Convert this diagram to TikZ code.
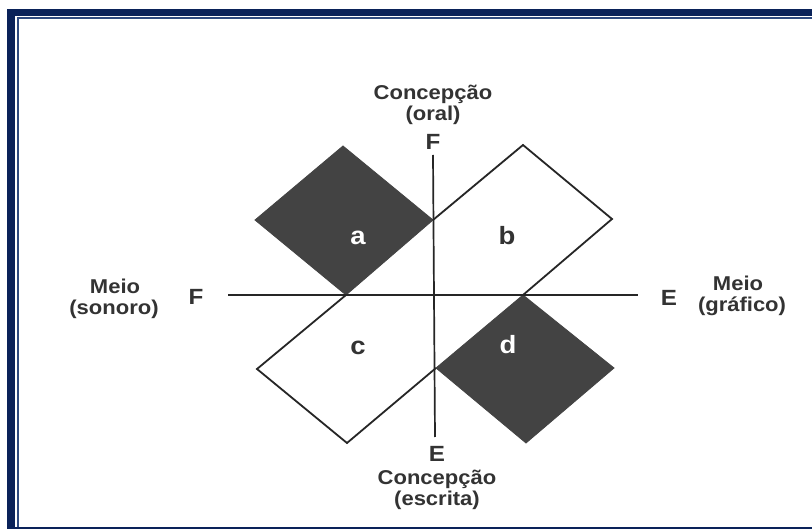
\documentclass[tikz,border=0pt]{standalone}
\usepackage{fontspec}
\setmainfont{Liberation Sans}[FakeStretch=1.1]
\definecolor{navy}{HTML}{0A2259}
\definecolor{navyl}{HTML}{2E4A80}
\definecolor{ink}{HTML}{333333}
\definecolor{shade}{HTML}{434343}
\begin{document}
\begin{tikzpicture}[x=1pt,y=-1pt,
  lbl/.style={font=\fontsize{20}{22}\selectfont\bfseries, text=ink, inner sep=0pt, anchor=base},
  big/.style={font=\fontsize{22}{22}\selectfont\bfseries, text=ink, inner sep=0pt, anchor=base},
  letter/.style={font=\fontsize{25}{25}\selectfont\bfseries, inner sep=0pt, anchor=base},
  dark/.style={fill=shade, draw=shade, line width=0.8pt, line join=miter},
  light/.style={draw=black!85, line width=1.8pt, line join=miter},
  axis/.style={draw=black!85, line width=1.7pt}]
\useasboundingbox (0,0) rectangle (812,529);
\fill[white] (0,0) rectangle (812,529);
% frame
\fill[navy] (7,9) rectangle (812,16);
\fill[navy] (7,9) rectangle (15,529);
\draw[navyl, line width=2pt] (17.5,529) -- (17.5,18.5) -- (812,18.5);
\draw[navy, line width=2pt] (15,528) -- (812,528);
% shapes
\path[dark]  (343,146) -- (433,220) -- (346,295) -- (255,220) -- cycle;
\path[dark]  (523,295) -- (614,368) -- (526,443) -- (436,368) -- cycle;
\path[light] (433,220) -- (523,145) -- (612,219) -- (523,295);
\path[light] (346,295) -- (257,369) -- (347,443) -- (436,368);
% axes
\coordinate (vt) at (433,155);
\coordinate (vb) at (435,437);
\coordinate (hl) at (228,295);
\coordinate (hr) at (638,295);
\draw[axis] (vt) -- (vb);
\draw[axis] (hl) -- (hr);
% letters
\node[letter, text=white] (la) at (358,245) {a};
\node[letter, text=ink]   (lb) at (507,245) {b};
\node[letter, text=ink]   (lc) at (358,355) {c};
\node[letter, text=white] (ld) at (508,354) {d};
% top labels
\node[lbl] (ct)  at (433,100) {Concepção};
\node[lbl] (ot)  at (433,121) {(oral)};
\node[big] (ft)  at (433,150) {F};
% bottom labels
\node[big] (eb)  at (437,462) {E};
\node[lbl] (cb)  at (437,484) {Concepção};
\node[lbl] (sb)  at (437,505) {(escrita)};
% left labels
\node[lbl] (ml)  at (115,294) {Meio};
\node[lbl] (sl)  at (114,315) {(sonoro)};
\node[big] (fl)  at (196,305) {F};
% right labels
\node[big] (er)  at (669,306) {E};
\node[lbl] (mr)  at (738,291) {Meio};
\node[lbl] (gr)  at (742,312) {(gráfico)};
\end{tikzpicture}
\end{document}
